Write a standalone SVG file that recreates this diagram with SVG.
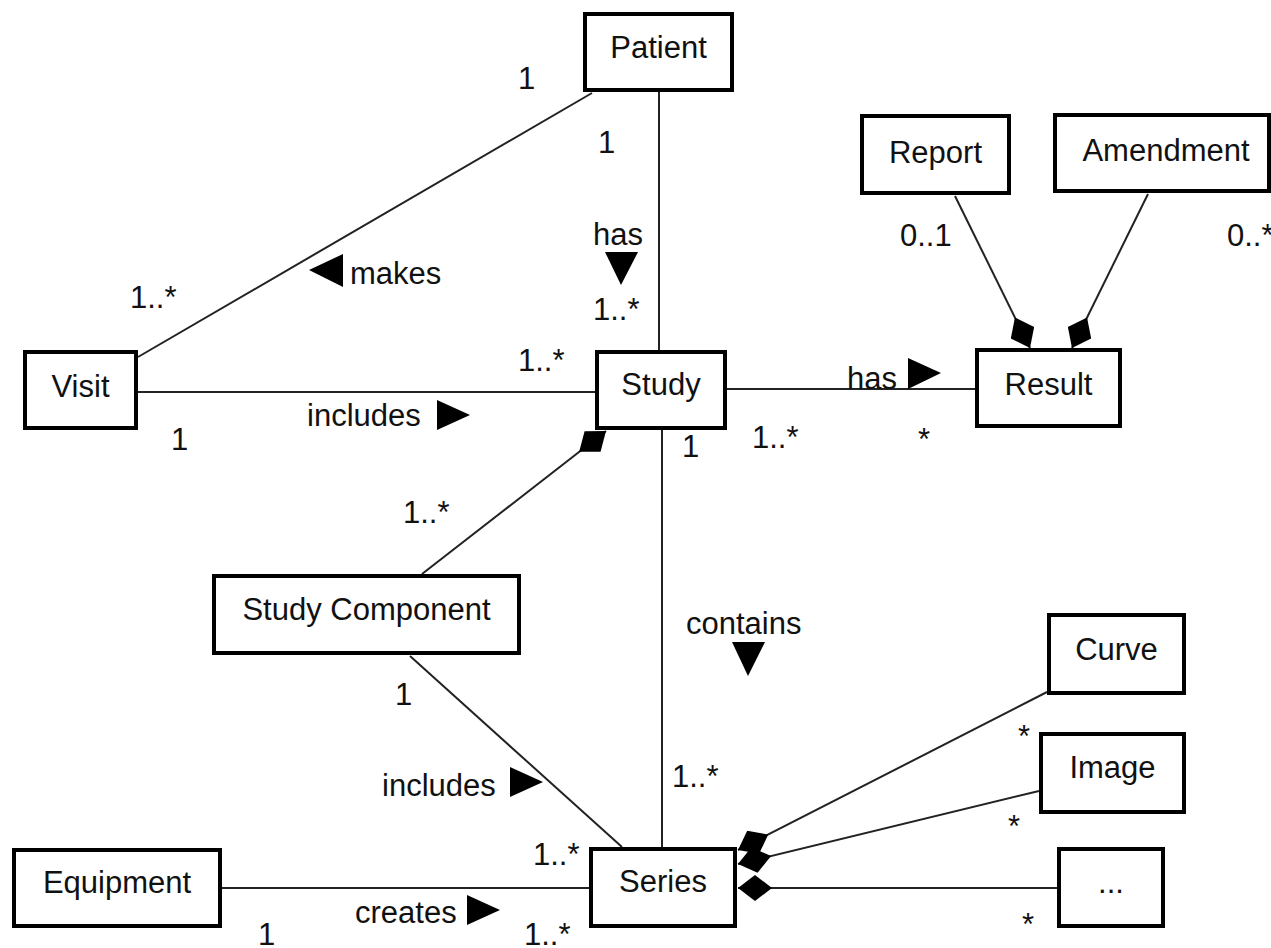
<svg xmlns="http://www.w3.org/2000/svg" width="1271" height="948" viewBox="0 0 1271 948">
<style>
.box{fill:#fff;stroke:#000;stroke-width:4}
.t{font-family:"Liberation Sans",Arial,sans-serif;font-size:31px;fill:#111}
.c{text-anchor:middle}
.ln{stroke:#222;stroke-width:2;fill:none}
.tri{fill:#000}
</style>
<defs>
<marker id="dia" viewBox="0 0 34 26" refX="34" refY="13" markerWidth="34" markerHeight="26" markerUnits="userSpaceOnUse" orient="auto">
<path d="M0,13 L17,0 L34,13 L17,26 Z" fill="#000"/>
</marker>
</defs>
<rect width="1271" height="948" fill="#fff"/>
<g id="connectors">
<line class="ln" x1="592" y1="93" x2="138" y2="357"/>
<line class="ln" x1="659" y1="92" x2="659" y2="350"/>
<line class="ln" x1="138" y1="392" x2="595" y2="392"/>
<line class="ln" x1="727" y1="389" x2="975" y2="389"/>
<line class="ln" x1="662" y1="430" x2="662" y2="847"/>
<line class="ln" x1="422" y1="574" x2="606" y2="431" marker-end="url(#dia)"/>
<line class="ln" x1="410" y1="656" x2="622" y2="847"/>
<line class="ln" x1="222" y1="888" x2="589" y2="888"/>
<line class="ln" x1="1047" y1="692" x2="738" y2="850" marker-end="url(#dia)"/>
<line class="ln" x1="1039" y1="791" x2="738" y2="864" marker-end="url(#dia)"/>
<line class="ln" x1="1057" y1="888" x2="738" y2="888" marker-end="url(#dia)"/>
<line class="ln" x1="955" y1="196" x2="1030" y2="348" marker-end="url(#dia)"/>
<line class="ln" x1="1148" y1="194" x2="1072" y2="348" marker-end="url(#dia)"/>
<polygon class="tri" points="309,270 343,254 343,287"/>
<polygon class="tri" points="605,252 638,252 621,285"/>
<polygon class="tri" points="437,400 437,430 470,415"/>
<polygon class="tri" points="908,358 908,389 941,373"/>
<polygon class="tri" points="732,642 765,642 748,676"/>
<polygon class="tri" points="510,767 510,797 543,782"/>
<polygon class="tri" points="467,895 467,925 500,910"/>
<text class="t" x="518" y="89">1</text>
<text class="t" x="598" y="153">1</text>
<text class="t" x="593" y="245">has</text>
<text class="t" x="350" y="284">makes</text>
<text class="t" x="130" y="308">1..*</text>
<text class="t" x="593" y="320">1..*</text>
<text class="t" x="518" y="371">1..*</text>
<text class="t" x="307" y="426">includes</text>
<text class="t" x="171" y="450">1</text>
<text class="t" x="847" y="389">has</text>
<text class="t" x="682" y="457">1</text>
<text class="t" x="752" y="448">1..*</text>
<text class="t" x="918" y="450">*</text>
<text class="t" x="900" y="246">0..1</text>
<text class="t" x="1227" y="246">0..*</text>
<text class="t" x="403" y="523">1..*</text>
<text class="t" x="686" y="634">contains</text>
<text class="t" x="395" y="705">1</text>
<text class="t" x="382" y="796">includes</text>
<text class="t" x="672" y="787">1..*</text>
<text class="t" x="1018" y="747">*</text>
<text class="t" x="1008" y="837">*</text>
<text class="t" x="1022" y="935">*</text>
<text class="t" x="533" y="865">1..*</text>
<text class="t" x="355" y="923">creates</text>
<text class="t" x="258" y="945">1</text>
<text class="t" x="524" y="945">1..*</text>
</g>
<g id="patient"><rect class="box" x="585" y="14" width="147" height="76"/><text class="t c" x="658.5" y="58">Patient</text></g>
<g id="report"><rect class="box" x="862" y="116" width="147" height="77"/><text class="t c" x="935.5" y="163">Report</text></g>
<g id="amendment"><rect class="box" x="1055" y="115" width="214" height="76"/><text class="t c" x="1166" y="161">Amendment</text></g>
<g id="visit"><rect class="box" x="25" y="352" width="111" height="76"/><text class="t c" x="80.5" y="397">Visit</text></g>
<g id="study"><rect class="box" x="597" y="352" width="128" height="76"/><text class="t c" x="661" y="395">Study</text></g>
<g id="result"><rect class="box" x="977" y="350" width="143" height="76"/><text class="t c" x="1048.5" y="395">Result</text></g>
<g id="study-component"><rect class="box" x="214" y="576" width="305" height="77"/><text class="t c" x="366.5" y="620">Study Component</text></g>
<g id="curve"><rect class="box" x="1049" y="615" width="135" height="78"/><text class="t c" x="1116.5" y="660">Curve</text></g>
<g id="image"><rect class="box" x="1041" y="734" width="143" height="78"/><text class="t c" x="1112.5" y="778">Image</text></g>
<g id="equipment"><rect class="box" x="14" y="850" width="206" height="76"/><text class="t c" x="117" y="893">Equipment</text></g>
<g id="series"><rect class="box" x="591" y="849" width="144" height="77"/><text class="t c" x="663" y="892">Series</text></g>
<g id="more"><rect class="box" x="1059" y="849" width="104" height="77"/><text class="t c" x="1111" y="893">...</text></g>
</svg>
